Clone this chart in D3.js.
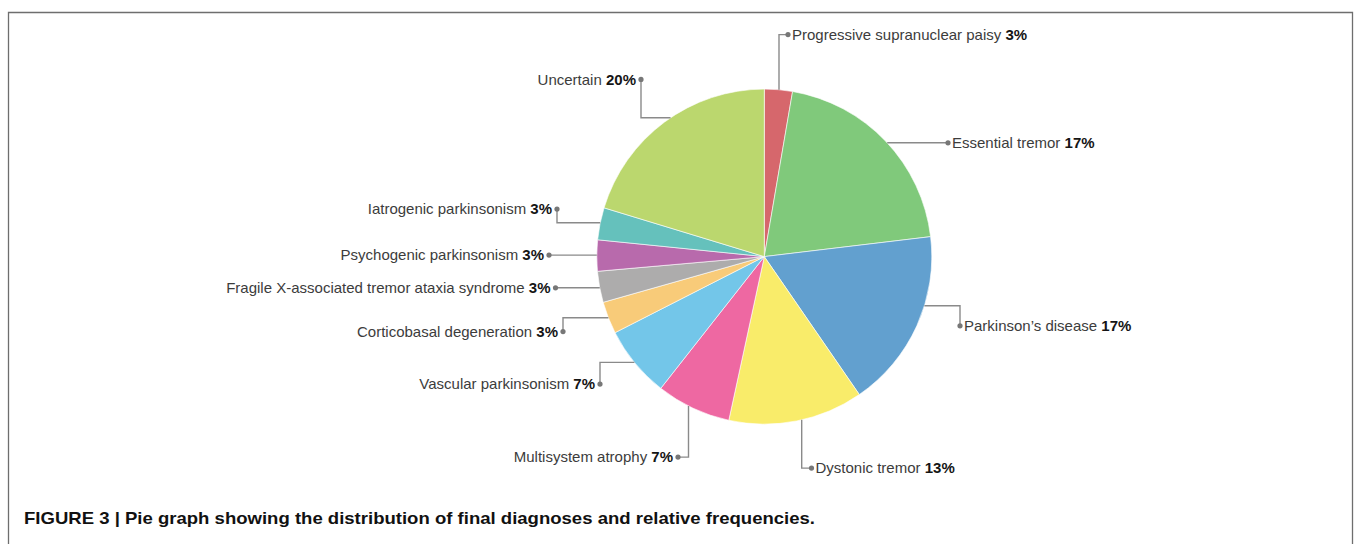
<!DOCTYPE html>
<html>
<head>
<meta charset="utf-8">
<script src="https://cdn.jsdelivr.net/npm/d3@7"></script>
<style>
  html, body { margin: 0; padding: 0; background: #fff; }
  svg { display: block; }
</style>
</head>
<body>
<svg id="chart" width="1355" height="544"></svg>
<script>
// ---- data ----
const categories = [
  "Progressive supranuclear paisy",
  "Essential tremor",
  "Parkinson\u2019s disease",
  "Dystonic tremor",
  "Multisystem atrophy",
  "Vascular parkinsonism",
  "Corticobasal degeneration",
  "Fragile X-associated tremor ataxia syndrome",
  "Psychogenic parkinsonism",
  "Iatrogenic parkinsonism",
  "Uncertain"
];
// slice sizes (percent of the circle)
const sliceValues = [2.7, 20.4, 17.3, 13.0, 7.2, 6.9, 3.1, 3.0, 3.0, 3.1, 20.3];
// percentages printed in the labels
const percentLabels = ["3%", "17%", "17%", "13%", "7%", "7%", "3%", "3%", "3%", "3%", "20%"];
const colors = ["#d6676c", "#80c97b", "#62a0cf", "#f9ec6a", "#ee68a2", "#73c6e9",
                "#f8cb79", "#adacac", "#b86aac", "#65c1bc", "#bbd76e"];
const caption = "FIGURE 3 | Pie graph showing the distribution of final diagnoses and relative frequencies.";

// ---- layout (leader routing, relative to the pie centre) ----
// type 'v': vertical leader at x = at, then horizontal to dot
// type 'h': horizontal leader at y = at, then vertical to dot
const leaderLayout = [
  {type: "v", at: 14.7,  dx: 23.7,  dy: -222, side: "right"},
  {type: "h", at: -113.8, dx: 183.7, dy: -113.8, side: "right"},
  {type: "h", at: 49.2,  dx: 195.7, dy: 69.2, side: "right"},
  {type: "v", at: 37.4,  dx: 47.2,  dy: 211.5, side: "right"},
  {type: "v", at: -75.8, dx: -86.3, dy: 200.5, side: "left"},
  {type: "h", at: 105.8, dx: -164.3, dy: 127.5, side: "left"},
  {type: "h", at: 61.2,  dx: -201.3, dy: 75.0, side: "left"},
  {type: "h", at: 31.2,  dx: -208.8, dy: 31.2, side: "left"},
  {type: "h", at: -1.5,  dx: -215.3, dy: -1.5, side: "left"},
  {type: "h", at: -33.8, dx: -207.3, dy: -47.5, side: "left"},
  {type: "h", at: -138.8, dx: -123.3, dy: -177.2, side: "left"}
];

const W = 1355, H = 544;
const cx = 764.3, cy = 256.6, R = 167.5;

const svg = d3.select("#chart");

// frame
svg.append("path")
  .attr("d", `M8.5,${H} L8.5,12.5 L1352.5,12.5 L1352.5,${H}`)
  .attr("fill", "none").attr("stroke", "#6e6e6e").attr("stroke-width", 1.3);

const g = svg.append("g").attr("transform", `translate(${cx},${cy})`);

const pie = d3.pie().sort(null).value(d => d)
  .startAngle(0).endAngle(2 * Math.PI);
const arcs = pie(sliceValues);
const arc = d3.arc().innerRadius(0).outerRadius(R);

g.selectAll("path.slice").data(arcs).join("path")
  .attr("class", "slice")
  .attr("d", arc)
  .attr("fill", (d, i) => colors[i])
  .attr("stroke", "#ffffff")
  .attr("stroke-width", 0.6);

// leaders
const lineColor = "#8a8a8a";
arcs.forEach((a, i) => {
  const L = leaderLayout[i];
  let pts;
  if (L.type === "v") {
    const x = L.at;
    const y0 = (L.dy < 0 ? -1 : 1) * Math.sqrt(R * R - x * x);
    pts = [[x, y0], [x, L.dy], [L.dx, L.dy]];
  } else {
    const y = L.at;
    const x0 = (L.side === "right" ? 1 : -1) * Math.sqrt(R * R - y * y);
    pts = [[x0, y], [L.dx, y], [L.dx, L.dy]];
  }
  g.append("path")
    .attr("d", d3.line()(pts))
    .attr("fill", "none")
    .attr("stroke", lineColor)
    .attr("stroke-width", 1.4);
  g.append("circle")
    .attr("cx", L.dx).attr("cy", L.dy).attr("r", 2.6)
    .attr("fill", "#777");

  const right = L.side === "right";
  const t = g.append("text")
    .attr("x", L.dx + (right ? 4 : -5))
    .attr("y", L.dy + 5.3)
    .attr("text-anchor", right ? "start" : "end")
    .style("font-family", "'Liberation Sans', Arial, Helvetica, sans-serif")
    .style("font-size", "15px");
  t.append("tspan").attr("fill", "#3c3c3c").text(categories[i] + " ");
  t.append("tspan").attr("fill", "#151515").attr("font-weight", "bold").text(percentLabels[i]);
});

// caption
svg.append("text")
  .attr("x", 24).attr("y", 524)
  .attr("textLength", 791)
  .attr("lengthAdjust", "spacingAndGlyphs")
  .style("font-family", "'Liberation Sans', Arial, Helvetica, sans-serif")
  .style("font-size", "17px")
  .style("font-weight", "bold")
  .attr("fill", "#111")
  .text(caption);
</script>
</body>
</html>
